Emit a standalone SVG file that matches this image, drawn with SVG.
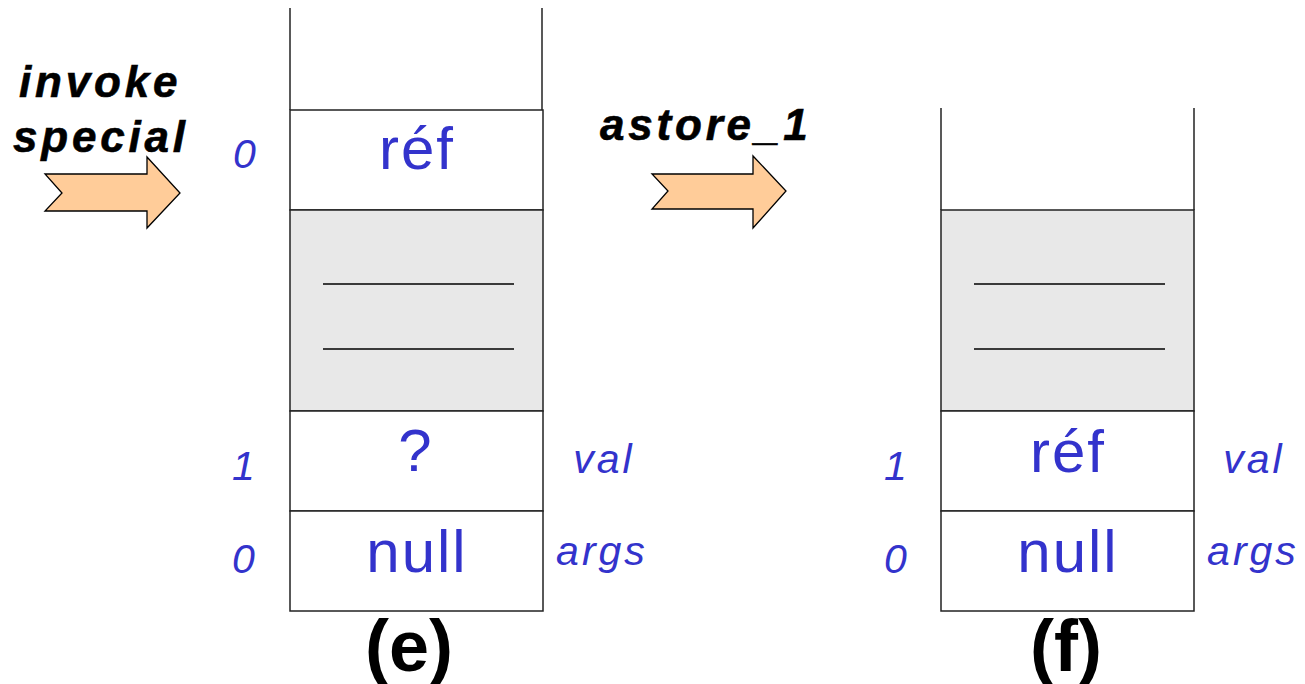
<svg xmlns="http://www.w3.org/2000/svg" width="1305" height="684" viewBox="0 0 1305 684">
<style>
.cell{fill:#fff;stroke:#222;stroke-width:1.5}
.gray{fill:#e8e8e8;stroke:#222;stroke-width:1.5}
.edge{stroke:#222;stroke-width:1.5;fill:none}
.sep{stroke:#000;stroke-width:1.5}
.arrow{fill:#ffcc99;stroke:#000;stroke-width:1.3;stroke-linejoin:miter}
.val{font-family:"Liberation Sans",Arial,sans-serif;font-size:60px;fill:#3333cc;text-anchor:middle;letter-spacing:2px}
.idx{font-family:"Liberation Sans",Arial,sans-serif;font-size:41px;font-style:italic;fill:#3333cc;text-anchor:middle;letter-spacing:3px}
.op{font-family:"Liberation Sans",Arial,sans-serif;font-size:44px;font-style:italic;font-weight:bold;fill:#000;stroke:#000;stroke-width:0.6;letter-spacing:3.8px}
.cap{font-family:"Liberation Sans",Arial,sans-serif;font-size:72px;font-weight:bold;fill:#000;text-anchor:middle}
</style>
<g id="stack-e">
<line class="edge" x1="290" y1="8" x2="290" y2="110"/>
<line class="edge" x1="542" y1="8" x2="542" y2="110"/>
<rect class="cell" x="290" y="110" width="253" height="100"/>
<text class="val" x="417" y="169">réf</text>
<rect class="gray" x="290" y="210" width="253" height="201"/>
<line class="sep" x1="323" y1="284" x2="514" y2="284"/>
<line class="sep" x1="323" y1="349" x2="514" y2="349"/>
<rect class="cell" x="290" y="411" width="253" height="100"/>
<text class="val" x="416" y="471">?</text>
<rect class="cell" x="290" y="511" width="253" height="100"/>
<text class="val" x="417" y="572">null</text>
<text class="idx" x="246" y="168">0</text>
<text class="idx" x="245" y="480">1</text>
<text class="idx" x="245" y="573">0</text>
<text class="idx" x="604" y="473">val</text>
<text class="idx" x="602" y="565">args</text>
<text class="cap" x="409" y="671">(e)</text>
</g>
<g id="stack-f">
<line class="edge" x1="941" y1="108" x2="941" y2="210"/>
<line class="edge" x1="1194" y1="108" x2="1194" y2="210"/>
<rect class="gray" x="941" y="210" width="253" height="201"/>
<line class="sep" x1="974" y1="284" x2="1165" y2="284"/>
<line class="sep" x1="974" y1="349" x2="1165" y2="349"/>
<rect class="cell" x="941" y="411" width="253" height="100"/>
<text class="val" x="1068" y="472">réf</text>
<rect class="cell" x="941" y="511" width="253" height="100"/>
<text class="val" x="1068" y="572">null</text>
<text class="idx" x="897" y="480">1</text>
<text class="idx" x="897" y="573">0</text>
<text class="idx" x="1254" y="473">val</text>
<text class="idx" x="1253" y="565">args</text>
<text class="cap" x="1066" y="671">(f)</text>
</g>
<g id="op-invokespecial">
<polygon class="arrow" points="45,174 147,174 147,157 180,193 147,228 147,211 45,211 62,193"/>
<text class="op" x="19" y="97">invoke</text>
<text class="op" x="13" y="152">special</text>
</g>
<g id="op-astore">
<polygon class="arrow" points="652,174 753,174 753,156 786,191 753,228 753,209 652,209 668,191"/>
<text class="op" x="600" y="140">astore_1</text>
</g>
<g id="connectors"></g>
</svg>
